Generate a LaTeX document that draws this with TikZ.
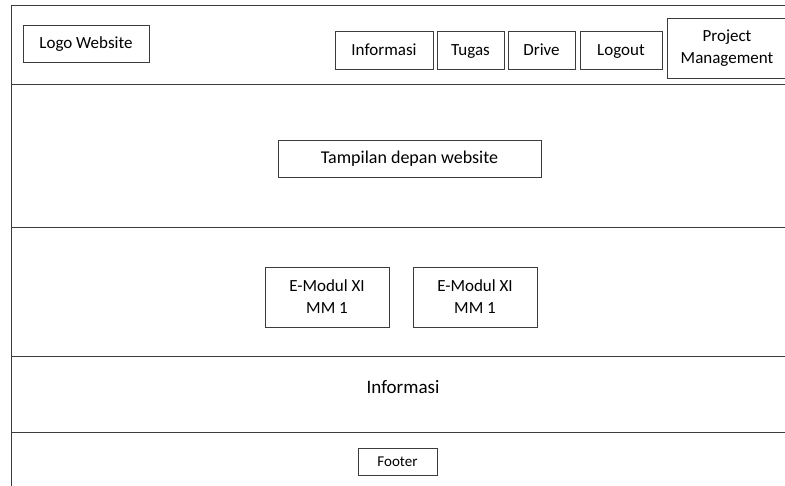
\documentclass[tikz,border=0pt]{standalone}
\usepackage{fontspec}
\setmainfont{Carlito}
\usepackage{xcolor}
\usetikzlibrary{positioning}
\definecolor{garis}{RGB}{60,60,60}
\tikzset{
  kotak/.style={draw=garis,line width=.9bp,inner sep=0pt,align=center,font=\fontsize{17bp}{22bp}\selectfont},
  satubaris/.style={text height=11bp,text depth=0pt},
  bagian/.style={garis,line width=.9bp}
}

\begin{document}
\begin{tikzpicture}[x=1bp,y=-1bp]
        \useasboundingbox (0,0) rectangle (785,486);
        % Frame
        \coordinate (kiriatas) at (11,5);
        \coordinate (kanantas) at (786,5);
        \coordinate (kiribawah) at (11,487);
        \draw[bagian] (kiribawah) -- (kiriatas) -- (kanantas);
        \foreach \y in {84,227,356,432}
            \draw[bagian] (11,\y) -- (786,\y);
        
        % Header
        \node[kotak,satubaris,minimum width=126bp,minimum height=37bp] (logo) at (86,43.5) {Logo Website};
        \node[kotak,satubaris,minimum width=98bp,minimum height=38bp] (info) at (384,50) {Informasi};
        \node[kotak,satubaris,minimum width=67bp,minimum height=38bp] (tugas) at (470.5,50) {Tugas};
        \node[kotak,satubaris,minimum width=67bp,minimum height=38bp] (drive) at (541.5,50) {Drive};
        \node[kotak,satubaris,minimum width=82bp,minimum height=38bp] (logout) at (621,50) {Logout};
        \node[kotak,minimum width=120bp,minimum height=60bp] (pm) at (727,48) {Project\\Management};
        
        % Isi
        \node[kotak,satubaris,font=\fontsize{18bp}{22bp}\selectfont,minimum width=263bp,minimum height=37bp] (tampilan) at (409.5,158.5) {Tampilan depan website};
        \node[kotak,minimum width=124bp,minimum height=60bp] (modulA) at (327,297) {E-Modul XI\\MM 1};
        \node[kotak,minimum width=124bp,minimum height=60bp] (modulB) at (475,297) {E-Modul XI\\MM 1};
        \node[font=\fontsize{19bp}{22bp}\selectfont,inner sep=0pt,text height=12bp,text depth=0pt] (informasi) at (403,387) {Informasi};
        
        % Footer
        \node[kotak,font=\fontsize{15bp}{18bp}\selectfont,text height=9.5bp,text depth=0pt,minimum width=79bp,minimum height=27bp] (footer) at (397.5,461.5) {Footer};
    \end{tikzpicture}
\end{document}
